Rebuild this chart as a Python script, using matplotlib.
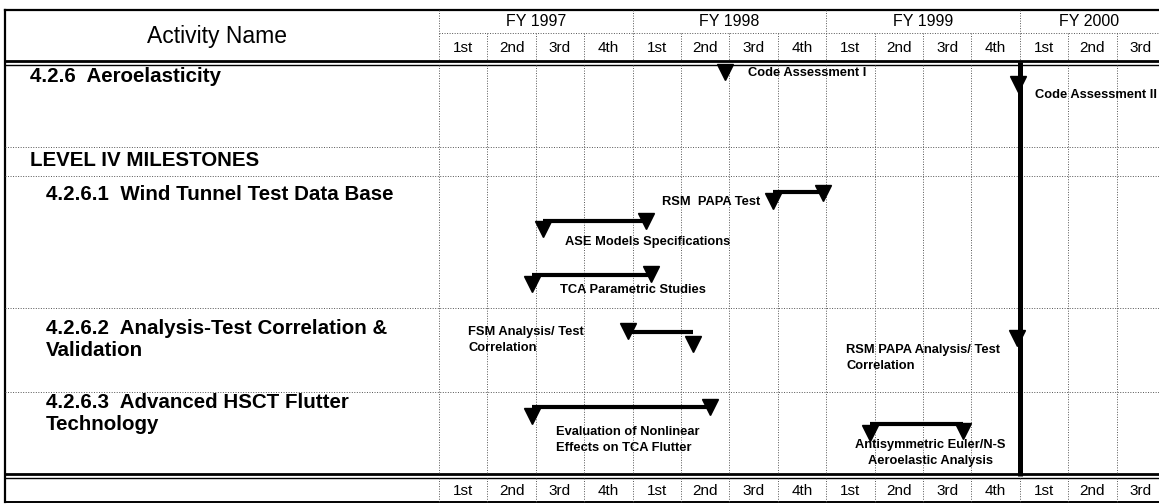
import matplotlib
matplotlib.use('Agg')
from matplotlib import pyplot as plt

plt.rcParams['font.family'] = ['Liberation Sans', 'DejaVu Sans']

# fiscal years and quarters shown on the time scale
fiscal_years = ['FY 1997', 'FY 1998', 'FY 1999', 'FY 2000']
quarters = ['1st', '2nd', '3rd', '4th', '1st', '2nd', '3rd', '4th',
            '1st', '2nd', '3rd', '4th', '1st', '2nd', '3rd']

# left column
activity_labels = ['4.2.6  Aeroelasticity', 'LEVEL IV MILESTONES',
                   '4.2.6.1  Wind Tunnel Test Data Base',
                   '4.2.6.2  Analysis-Test Correlation &\nValidation',
                   '4.2.6.3  Advanced HSCT Flutter\nTechnology']

# single milestones (position in quarters from start of FY 1997)
milestone_names = ['Code Assessment I', 'Code Assessment II',
                   'RSM PAPA Analysis/ Test\nCorrelation']
milestone_pos = [5.9, 11.97, 11.95]

# start/finish milestone pairs
task_names = ['RSM  PAPA Test', 'ASE Models Specifications',
              'TCA Parametric Studies', 'FSM Analysis/ Test\nCorrelation',
              'Evaluation of Nonlinear\nEffects on TCA Flutter',
              'Antisymmetric Euler/N-S\nAeroelastic Analysis']
task_start = [6.9, 2.15, 1.92, 3.9, 1.92, 8.9]
task_end = [7.93, 4.28, 4.38, 5.25, 5.6, 10.83]

status_line = 12  # start of FY 2000

# ---- layout (pixels) ----
W, H = 1159, 504
X0, QW = 439, 48.4


def px(x):
    # pixel column -> quarter units
    return (x - X0) / QW


fig = plt.figure(figsize=(W / 100, H / 100), dpi=100)
ax = fig.add_axes([0, 0, 1, 1])
ax.set_xlim(px(0), px(W))
ax.set_ylim(H, 0)
ax.axis('off')

left, right = px(5), px(W)
dot = dict(color='#555555', lw=0.7, ls=(0, (1, 1.6)))

# frame
ax.plot([left, right], [10, 10], color='black', lw=1.6)
ax.plot([left, left], [10, 502], color='black', lw=1.6)
ax.plot([left, right], [502, 502], color='black', lw=1.4)
for y, lw in [(60.5, 2.0), (64.5, 1.0), (473.5, 2.0), (477.5, 1.0)]:
    ax.plot([left, right], [y, y], color='black', lw=lw)

# header separators
ax.plot([0, right], [33, 33], **dot)
for k in range(0, 16, 4):
    ax.plot([k, k], [10, 33], **dot)
for k in range(len(quarters)):
    ax.plot([k, k], [33, 60], **dot)
    ax.plot([k, k], [65, 473], **dot)
    ax.plot([k, k], [478, 502], **dot)

# row separators
for y in [147, 176, 308, 392]:
    ax.plot([left, right], [y, y], **dot)

# header text
ax.text(px(217), 36, 'Activity Name', fontsize=16.5, ha='center', va='center')
for i, fy in enumerate(fiscal_years):
    a, b = 4 * i, min(4 * i + 4, right)
    ax.text((a + b) / 2, 22, fy, fontsize=11.5, ha='center', va='center')
for k, q in enumerate(quarters):
    ax.text(k + 0.5, 48, q, fontsize=11, ha='center', va='center')
    ax.text(k + 0.5, 491, q, fontsize=11, ha='center', va='center')

# activity names
label_x = [30, 30, 46, 46, 46]
label_y = [77, 161, 195, 339, 414]
for t, x, y in zip(activity_labels, label_x, label_y):
    ax.text(px(x), y, t, fontsize=14.8, fontweight='bold', ha='left',
            va='center', linespacing=1.2)

# status line
ax.plot([status_line, status_line], [62, 476], color='black', lw=3.6,
        solid_capstyle='butt')

tri = dict(marker='v', ms=12, color='black', ls='none')
note = dict(fontsize=9.3, fontweight='bold', va='center', linespacing=1.45)

# single milestones
m_y = [72, 84, 338]
m_text = [(px(748), 73, 'left'), (px(1035), 95, 'left'), (px(846), 358, 'left')]
for name, k, y, (tx, ty, ha) in zip(milestone_names, milestone_pos, m_y, m_text):
    ax.plot([k], [y], **tri)
    ax.text(tx, ty, name, ha=ha, **note)

# tasks: line level, start/end triangle centers, label placement
line_y = [192, 221, 275, 332, 407, 424]
start_y = [201, 229, 284, 331, 416, 433]
end_y = [193, 221, 274, 344, 407, 431]
lab = [(px(760), 202, 'right'), (px(565), 242, 'left'), (px(560), 290, 'left'),
       (px(468), 340, 'left'), (px(556), 440, 'left'), (px(930), 453, 'center')]
for i, name in enumerate(task_names):
    s, e = task_start[i], task_end[i]
    ax.plot([s, e], [line_y[i], line_y[i]], color='black', lw=3,
            solid_capstyle='butt')
    ax.plot([s], [start_y[i]], **tri)
    ax.plot([e], [end_y[i]], **tri)
    tx, ty, ha = lab[i]
    ax.text(tx, ty, name, ha=ha, **note)

fig.savefig('out.png', dpi=100, facecolor='white')
